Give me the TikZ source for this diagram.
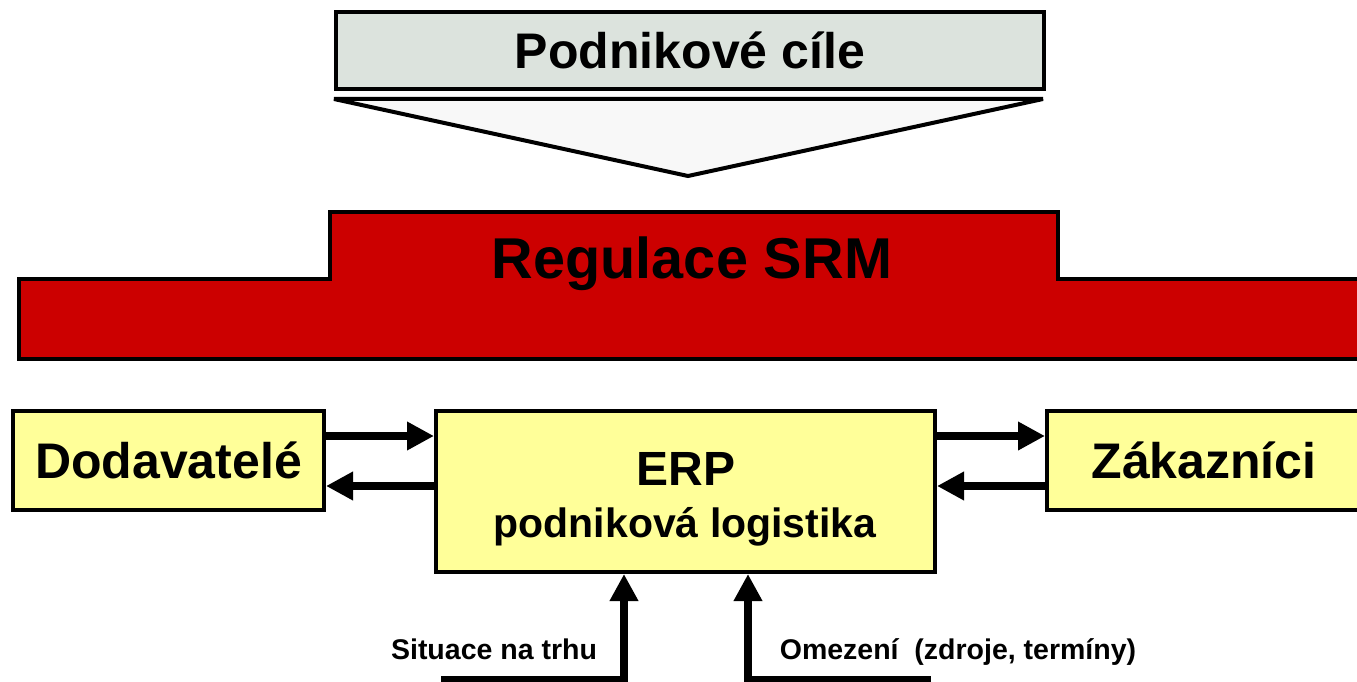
\documentclass[tikz,border=0pt]{standalone}
\usepackage{fontspec}
\setmainfont{Liberation Sans}
\usepackage{tikz}
\usetikzlibrary{calc}
\usetikzlibrary{positioning}
\usetikzlibrary{arrows.meta}

\definecolor{goalgray}{RGB}{220,227,221}
\definecolor{funnelwhite}{RGB}{248,248,248}
\definecolor{srmred}{RGB}{204,0,0}
\definecolor{boxyellow}{RGB}{255,255,153}

\newcommand{\bigfont}[1]{\fontsize{#1}{#1}\selectfont\bfseries}

\begin{document}
\begin{tikzpicture}[x=1pt,y=-1pt,
    frame/.style={draw=black,line width=4pt,inner sep=0pt},
    partner/.style={frame,fill=boxyellow,minimum width=311pt,minimum height=99pt,
                    text height=36pt,text depth=0pt,font=\bigfont{50}},
    flow/.style={line width=8pt,-{Triangle[length=27pt,width=27pt]}},
    note/.style={anchor=base,inner sep=0pt,font=\bigfont{28.5}}]
    \useasboundingbox (0,0) rectangle (1357,682);

    \node [frame,fill=goalgray,minimum width=708pt,minimum height=77pt,
           text height=36pt,text depth=0pt,font=\bigfont{50}] (cile) at (690,50.5) {Podnikové cíle};
    \draw [line width=4pt,fill=funnelwhite,miter limit=2] (334,99) -- (1043,99) -- (688,176) -- cycle;

    \draw [line width=4pt,fill=srmred] (19,359) -- (19,279) -- (330,279) -- (330,212)
        -- (1058,212) -- (1058,279) -- (1372,279) -- (1372,359) -- cycle;
    \node [anchor=base,inner sep=0pt,font=\bigfont{57.6}] (srm) at (692,278) {Regulace SRM};

    \node [partner] (dod) at (168.5,460.5) {Dodavatelé};
    \node [partner,minimum width=314pt] (zak) at (1204,460.5) {Zákazníci};
    \node [frame,fill=boxyellow,minimum width=499pt,minimum height=161pt] (erp) at (685.5,491.5) {};
    \node [anchor=base,inner sep=0pt,font=\bigfont{48}] (erptitle) at (686,485) {ERP};
    \node [anchor=base,inner sep=0pt,font=\bigfont{41}] (erpsub) at (685,537) {podniková logistika};

    \draw [flow] (dod.east |- 0,436) -- (erp.west |- 0,436);
    \draw [flow] (erp.west |- 0,486) -- (dod.east |- 0,486);
    \draw [flow] (erp.east |- 0,436) -- (zak.west |- 0,436);
    \draw [flow] (zak.west |- 0,486) -- (erp.east |- 0,486);

    \coordinate (trh) at (441,680);
    \coordinate (zdroje) at (931,680);
    \draw [flow] (trh) -| ([xshift=-61.5pt]erp.south);
    \draw [flow] (zdroje) -| ([xshift=62.5pt]erp.south);
    \node [note] (trhtext) at (494,659) {Situace na trhu};
    \node [note] (zdrojetext) at (958,659) {Omezení\ \ (zdroje, termíny)};

\end{tikzpicture}
\end{document}
